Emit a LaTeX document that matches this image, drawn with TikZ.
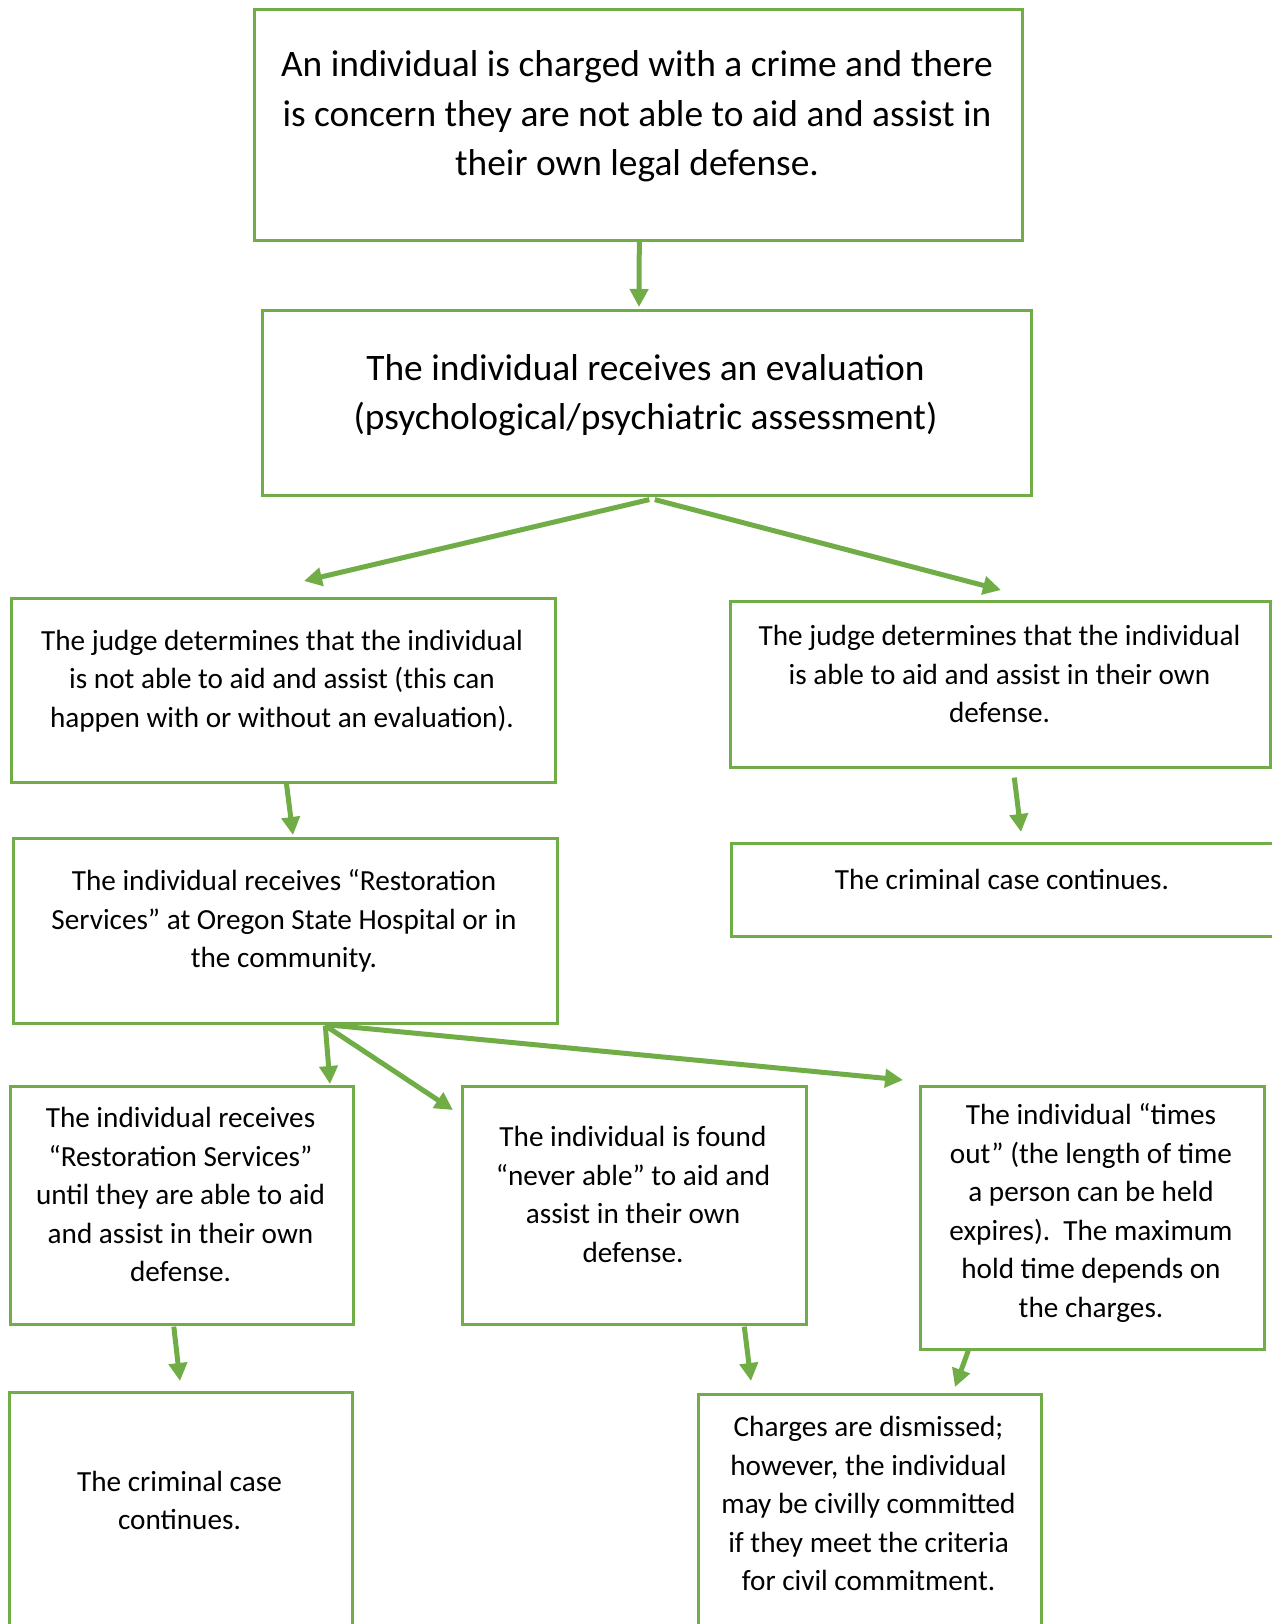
\documentclass[tikz,border=0pt]{standalone}
\usepackage{fontspec}
\setmainfont{Carlito}
\usetikzlibrary{arrows.meta,calc}
\definecolor{grn}{HTML}{70AD47}
\begin{document}
\begin{tikzpicture}[x=1pt,y=-1pt,
 box/.style={draw=grn,line width=2.6pt,inner sep=0pt,anchor=north west},
 big/.style={align=center,font=\fontsize{37.4}{49.5}\selectfont,inner sep=0pt},
 sml/.style={align=center,font=\fontsize{29.2}{38.5}\selectfont,inner sep=0pt},
 arr/.style={draw=grn,line width=5pt,-{Triangle[length=18pt,width=18pt]}}]
\useasboundingbox (0,0) rectangle (1271,1624);
\fill[white] (0,0) rectangle (1271,1624);
% boxes
\node[box,minimum width=768pt,minimum height=231pt] (b1) at (253,8) {};
\node[box,minimum width=769pt,minimum height=185pt] (b2) at (261,309) {};
\node[box,minimum width=544pt,minimum height=184pt] (b3) at (10,597) {};
\node[box,minimum width=540pt,minimum height=166pt] (b4) at (729,600) {};
\node[box,minimum width=544pt,minimum height=185pt] (b5) at (12,837) {};
\node[box,minimum width=560pt,minimum height=93pt] (b6) at (730,842) {};
\node[box,minimum width=343pt,minimum height=238pt] (b7) at (9,1085) {};
\node[box,minimum width=344pt,minimum height=238pt] (b8) at (461,1085) {};
\node[box,minimum width=344pt,minimum height=263pt] (b9) at (919,1085) {};
\node[box,minimum width=343pt,minimum height=260pt] (b10) at (8,1391) {};
\node[box,minimum width=343pt,minimum height=260pt] (b11) at (697,1393) {};
% texts
\node[big] (t1) at (637,116.5) {An individual is charged with a crime and there\\is concern they are not able to aid and assist in\\their own legal defense.};
\node[big] (t2) at (645.5,395) {The individual receives an evaluation\\(psychological/psychiatric assessment)};
\node[sml] (t3) at (282,681) {The judge determines that the individual\\is not able to aid and assist (this can\\happen with or without an evaluation).};
\node[sml] (t4) at (999.5,674) {The judge determines that the individual\\is able to aid and assist in their own\\defense.};
\node[sml] (t5) at (284,921) {The individual receives “Restoration\\Services” at Oregon State Hospital or in\\the community.};
\node[sml] (t6) at (1002,879) {The criminal case continues.};
\node[sml] (t7) at (180.5,1194.5) {The individual receives\\“Restoration Services”\\until they are able to aid\\and assist in their own\\defense.};
\node[sml] (t8) at (633,1194.5) {The individual is found\\“never able” to aid and\\assist in their own\\defense.};
\node[sml] (t9) at (1091,1213) {The individual “times\\out” (the length of time\\a person can be held\\expires).\ \ The maximum\\hold time depends on\\the charges.};
\node[sml] (t10) at (179.5,1500.5) {The criminal case\\continues.};
\node[sml] (t11) at (868.5,1503.5) {Charges are dismissed;\\however, the individual\\may be civilly committed\\if they meet the criteria\\for civil commitment.};
% arrow ends
\coordinate (e1) at (639,307);
\coordinate (e2) at (304,581);
\coordinate (e3) at (1001,590);
\coordinate (e4) at (293,835);
\coordinate (e5) at (1021,832);
\coordinate (e6) at (330,1084);
\coordinate (e7) at (453,1110);
\coordinate (e8) at (903,1080);
\coordinate (e9) at (180,1381);
\coordinate (e10) at (751,1381);
\coordinate (e11) at (955,1387);
% arrows
\draw[arr] ($(b1.south)+(1,0)$) -- (e1);
\draw[arr] ($(b2.south)+(2.5,3)$) -- (e2);
\draw[arr] ($(b2.south)+(8,3)$) -- (e3);
\draw[arr] ($(b3.south)+(3,-1)$) -- (e4);
\draw[arr] ($(b4.south)+(14,9)$) -- (e5);
\draw[arr] ($(b5.south)+(40,1)$) -- (e6);
\draw[arr] ($(b5.south)+(40,1)$) -- (e7);
\draw[arr] ($(b5.south)+(40,0)$) -- (e8);
\draw[arr] ($(b7.south)+(-8,1)$) -- (e9);
\draw[arr] ($(b8.south)+(110,1)$) -- (e10);
\draw[arr] ($(b9.south)+(-124,0)$) -- (e11);
\end{tikzpicture}
\end{document}
